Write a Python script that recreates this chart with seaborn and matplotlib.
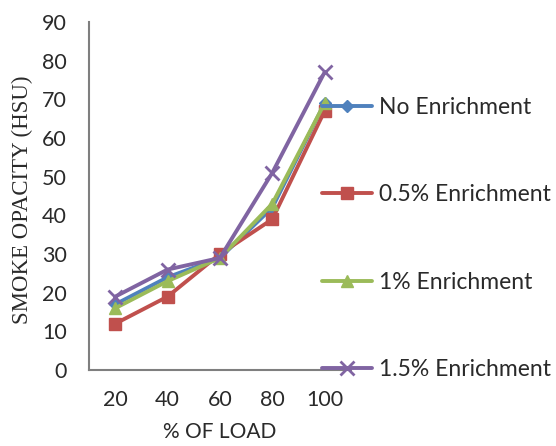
import matplotlib
matplotlib.use("Agg")
import matplotlib.pyplot as plt
import seaborn as sns
import pandas as pd

# Load levels (category axis) and smoke opacity readings per blend
load_pct = ["20", "40", "60", "80", "100"]
no_enrichment = [17, 24, 29, 42, 69]
enrich_05 = [12, 19, 30, 39, 67]
enrich_1 = [16, 23, 29, 43, 69]
enrich_15 = [19, 26, 29, 51, 77]

series_names = ["No Enrichment", "0.5% Enrichment", "1% Enrichment", "1.5% Enrichment"]
series_values = [no_enrichment, enrich_05, enrich_1, enrich_15]
colors = ["#4F81BD", "#C0504D", "#9BBB59", "#8064A2"]
markers = ["D", "s", "^", "x"]
marker_sizes = [6, 8, 8, 10]

sns.set_style("white")
plt.rcParams["font.family"] = ["Lato", "DejaVu Sans"]

fig = plt.figure(figsize=(5.56, 4.46), dpi=100)
ax = fig.add_axes([0.160, 0.170, 0.471, 0.781])

positions = list(range(len(load_pct)))
for name, vals, c, m, ms in zip(series_names, series_values, colors, markers, marker_sizes):
    df = pd.DataFrame({"pos": positions, "val": vals})
    sns.lineplot(data=df, x="pos", y="val", ax=ax, color=c, marker=m,
                 markersize=ms, linewidth=2.8, label=name,
                 markeredgecolor=c, markeredgewidth=2.0 if m == "x" else 1.0)

ax.set_xlim(-0.5, len(load_pct) - 0.5)
ax.set_ylim(0, 90)
ax.set_xticks(positions)
ax.set_xticklabels(load_pct)
ax.set_yticks(range(0, 91, 10))
ax.tick_params(axis="both", length=0, labelsize=15.5, colors="#2a2a2a")
ax.tick_params(axis="x", pad=14)
ax.tick_params(axis="y", pad=16)

for side in ["top", "right"]:
    ax.spines[side].set_visible(False)
for side in ["left", "bottom"]:
    ax.spines[side].set_color("#7f7f7f")
    ax.spines[side].set_linewidth(1.5)

ax.set_xlabel("% OF LOAD", fontsize=15, color="#2a2a2a", labelpad=9)
ax.set_ylabel("SMOKE OPACITY (HSU)", fontsize=16.5, color="#2a2a2a",
              family=["Liberation Serif", "DejaVu Serif"], labelpad=0)
ax.yaxis.set_label_coords(-0.215, 0.49)

leg = ax.legend(loc="upper left", bbox_to_anchor=(0.579, 0.783),
                bbox_transform=fig.transFigure, frameon=False,
                fontsize=16.5, handlelength=2.2, handletextpad=0.3,
                labelspacing=2.9, borderaxespad=0, borderpad=0)
for t in leg.get_texts():
    t.set_color("#2a2a2a")

fig.savefig("out.png", dpi=100)
